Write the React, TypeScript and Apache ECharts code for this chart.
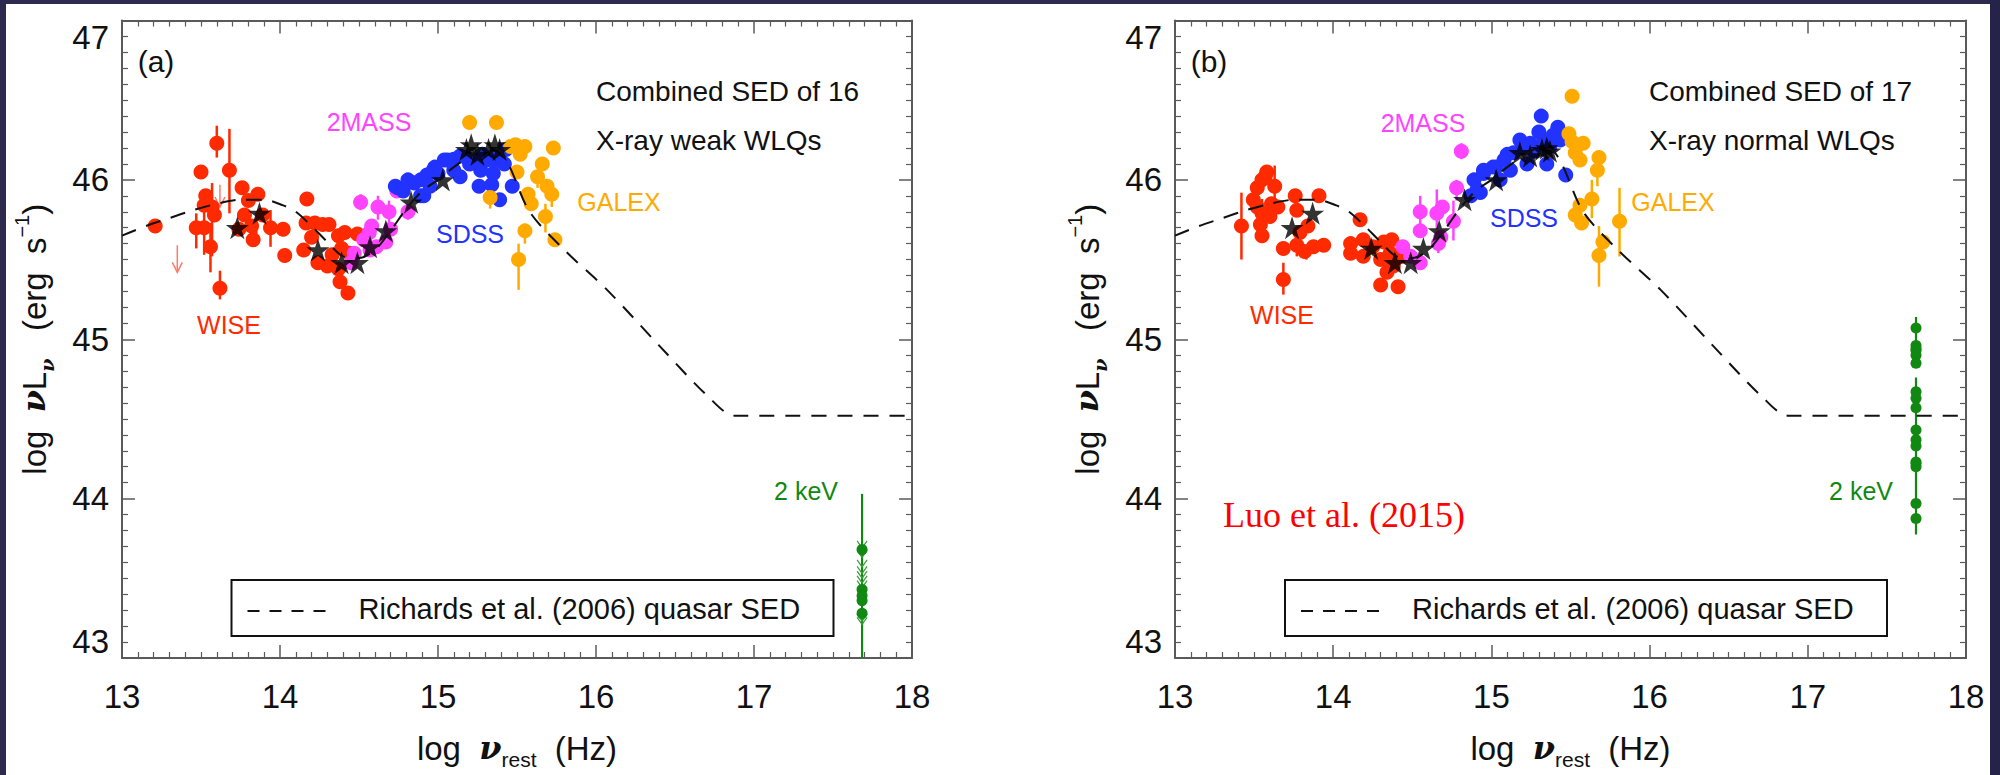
import React, { useEffect, useRef } from "react";
import * as echarts from "echarts";

// ---------- axes ----------
const xMin = 13, xMax = 18, xStep = 1;
const yMin = 43, yMax = 47, yStep = 1;
const xLog2keV = 17.684;

// ---------- Richards et al. (2006) mean quasar SED ----------
const sedX = [13.0, 13.15, 13.3, 13.45, 13.6, 13.75, 13.9, 14.02, 14.1, 14.2, 14.3, 14.4, 14.5, 14.6, 14.7, 14.8, 14.9, 15.0, 15.1, 15.2, 15.3, 15.38, 15.45, 15.58, 15.8, 16.07, 16.4, 16.71, 16.88, 18.0];
const sedY = [45.65, 45.71, 45.76, 45.81, 45.85, 45.875, 45.875, 45.84, 45.8, 45.71, 45.61, 45.52, 45.51, 45.56, 45.68, 45.82, 45.93, 46.0, 46.08, 46.15, 46.2, 46.19, 46.09, 45.8, 45.56, 45.31, 44.96, 44.64, 44.52, 44.52];

// ---------- panel (a): X-ray weak ----------
const aWise: number[][] = [[13.21,45.71],[13.5,46.05],[13.6,46.23],[13.68,46.06],[13.53,45.9],[13.52,45.84],[13.57,45.83],[13.585,45.78],[13.47,45.7],[13.52,45.7],[13.56,45.58],[13.62,45.32],[13.76,45.95],[13.8,45.87],[13.86,45.91],[13.775,45.78],[13.82,45.71],[13.74,45.69],[13.83,45.625],[13.89,45.78],[13.94,45.7],[14.02,45.69],[14.03,45.525],[14.17,45.88],[14.165,45.73],[14.22,45.73],[14.27,45.72],[14.31,45.72],[14.15,45.56],[14.2,45.64],[14.24,45.48],[14.3,45.46],[14.37,45.65],[14.41,45.67],[14.49,45.66],[14.39,45.57],[14.37,45.44],[14.38,45.36],[14.43,45.29],[14.33,45.53],[14.44,45.54]];
const aWiseErr: number[][] = [[13.6,46.14,46.34],[13.68,45.79,46.32],[13.47,45.57,45.79],[13.56,45.42,45.73],[13.62,45.25,45.43],[13.94,45.58,45.81],[13.57,45.52,45.98],[13.52,45.53,45.94],[13.85,45.66,45.76]];
const aWiseLim: number[][] = [[13.35,45.59,45.42],[13.62,45.97,45.83]];
const a2mass: number[][] = [[14.51,45.86],[14.62,45.83],[14.69,45.8],[14.58,45.71],[14.74,45.93],[14.81,45.8],[14.7,45.69],[14.53,45.625],[14.61,45.58],[14.47,45.54],[14.565,45.67],[14.67,45.61],[14.45,45.48],[14.57,45.56]];
const a2massErr: number[][] = [[14.51,45.81,45.91],[14.62,45.75,45.9],[14.69,45.73,45.87],[14.81,45.75,45.85],[14.67,45.58,45.71]];
const aSdss: number[][] = [[14.73,45.96],[14.745,45.95],[14.81,46.0],[14.85,45.98],[14.89,46.0],[14.89,45.9],[14.91,45.9],[14.93,46.03],[14.97,46.06],[14.98,46.08],[15.04,46.125],[15.06,46.125],[15.1,46.06],[15.1,46.13],[15.14,46.15],[15.14,46.02],[15.18,46.14],[15.23,46.125],[15.27,46.06],[15.26,45.96],[15.31,46.125],[15.35,46.04],[15.34,45.97],[15.39,46.15],[15.43,46.19],[15.39,45.875],[15.47,45.96],[15.2,46.1],[15.0,46.04],[14.95,45.96],[14.78,45.93],[15.28,46.16],[15.36,46.12],[15.42,46.1]];
const aGalex: number[][] = [[15.2,46.36],[15.37,46.36],[15.46,46.21],[15.49,46.22],[15.55,46.21],[15.52,46.16],[15.73,46.2],[15.66,46.1],[15.5,46.05],[15.63,46.02],[15.69,45.96],[15.72,45.91],[15.57,45.91],[15.33,45.89],[15.59,45.85],[15.68,45.77],[15.55,45.68],[15.74,45.625],[15.51,45.5]];
const aGalexErr: number[][] = [[15.63,45.95,46.06],[15.72,45.83,45.96],[15.33,45.82,45.93],[15.68,45.67,45.85],[15.55,45.6,45.71],[15.51,45.31,45.6]];
const aStars: number[][] = [[13.73,45.7],[13.87,45.79],[14.24,45.56],[14.39,45.48],[14.49,45.48],[14.57,45.58],[14.67,45.68],[14.83,45.86],[15.03,46.0],[15.18,46.19],[15.21,46.22],[15.25,46.16],[15.32,46.19],[15.36,46.22],[15.39,46.19]];
const aXray = [43.68, 43.43, 43.39, 43.36, 43.28];
const aXrayErr: number[][] = [[xLog2keV, 43.0, 44.03]];
const aXrayLim = [43.71, 43.65, 43.59, 43.55, 43.52, 43.49, 43.46, 43.42, 43.25, 43.23];

// ---------- panel (b): X-ray normal ----------
const bWise: number[][] = [[13.42,45.71],[13.495,45.875],[13.52,45.95],[13.55,46.0],[13.58,46.05],[13.57,46.02],[13.52,45.83],[13.55,45.79],[13.54,45.72],[13.55,45.65],[13.61,45.85],[13.63,45.96],[13.65,45.83],[13.685,45.57],[13.685,45.375],[13.6,45.77],[13.76,45.9],[13.77,45.81],[13.91,45.9],[13.84,45.71],[13.79,45.67],[13.77,45.59],[13.82,45.55],[13.875,45.58],[13.94,45.59],[14.17,45.75],[14.11,45.6],[14.11,45.54],[14.19,45.625],[14.25,45.58],[14.32,45.61],[14.37,45.625],[14.19,45.52],[14.3,45.5],[14.36,45.54],[14.44,45.52],[14.3,45.34],[14.41,45.33],[14.34,45.42],[14.38,45.46]];
const bWiseErr: number[][] = [[13.42,45.5,45.92],[13.63,45.81,46.09],[13.685,45.28,45.48],[13.55,45.62,45.88],[13.77,45.52,45.62],[13.83,45.5,45.58]];
const b2mass: number[][] = [[14.81,46.18],[14.55,45.8],[14.655,45.79],[14.69,45.83],[14.55,45.68],[14.665,45.6],[14.76,45.74],[14.78,45.95],[14.55,45.48],[14.49,45.52],[14.44,45.58],[14.68,45.64]];
const b2massErr: number[][] = [[14.81,46.13,46.23],[14.55,45.71,45.9],[14.655,45.69,45.94],[14.665,45.54,45.66],[14.76,45.62,45.87],[14.78,45.87,46.0]];
const bSdss: number[][] = [[14.87,45.9],[14.89,46.0],[14.91,45.94],[14.93,45.92],[14.95,46.04],[14.95,46.06],[15.01,46.08],[15.03,46.08],[15.055,46.0],[15.08,46.125],[15.1,46.16],[15.12,46.06],[15.14,46.17],[15.18,46.25],[15.225,46.1],[15.245,46.23],[15.3,46.3],[15.315,46.4],[15.35,46.1],[15.37,46.21],[15.42,46.33],[15.435,46.25],[15.47,46.03],[15.2,46.2],[15.27,46.18],[15.33,46.24],[15.39,46.28]];
const bGalex: number[][] = [[15.51,46.525],[15.49,46.29],[15.51,46.24],[15.58,46.23],[15.53,46.17],[15.56,46.125],[15.68,46.14],[15.67,46.06],[15.635,45.88],[15.56,45.84],[15.53,45.78],[15.57,45.73],[15.81,45.74],[15.705,45.61],[15.68,45.525]];
const bGalexErr: number[][] = [[15.67,45.96,46.1],[15.635,45.76,46.0],[15.81,45.52,45.95],[15.68,45.33,45.71]];
const bStars: number[][] = [[13.74,45.7],[13.87,45.79],[14.24,45.57],[14.39,45.48],[14.49,45.48],[14.57,45.57],[14.67,45.68],[14.83,45.875],[15.03,46.0],[15.18,46.17],[15.245,46.15],[15.32,46.19],[15.35,46.2],[15.37,46.18]];
const bXray = [45.07, 44.96, 44.94, 44.93, 44.9, 44.85, 44.67, 44.63, 44.57, 44.43, 44.37, 44.33, 44.23, 44.2, 44.22, 43.97, 43.875];
const bXrayErr: number[][] = [[xLog2keV, 44.82, 45.14], [xLog2keV, 43.775, 44.76]];

// ---------- texts ----------
const panelTags = ["(a)", "(b)"];
const panelTitles = [["Combined SED of 16", "X-ray weak WLQs"], ["Combined SED of 17", "X-ray normal WLQs"]];
const bandNames = ["WISE", "2MASS", "SDSS", "GALEX", "2 keV"];
const legendText = "Richards et al. (2006) quasar SED";
const citeText = "Luo et al. (2015)";

// ---------- style ----------
const F = "'Liberation Sans', Arial, sans-serif";
const RED = "#ff2a00", MAG = "#ff44ff", BLUE = "#2233ff", ORANGE = "#ffaa00", GREEN = "#118811", LIMRED = "#ff7a6a";
const AX = "#5a5a5a";
const STAR = "path://M50,0L61.8,35.1L98.6,35.1L68.8,56.8L80.2,91.5L50,70L19.8,91.5L31.2,56.8L1.4,35.1L38.2,35.1Z";

const grids = [
  { left: 122, top: 20.5, width: 790, height: 640 },
  { left: 1175, top: 20.5, width: 791, height: 640 },
];

const axLine = { show: true, onZero: false, lineStyle: { color: AX, width: 2 } };
const axTick = { show: true, inside: true, length: 13, lineStyle: { color: AX, width: 1.5 } };
const minTick = { show: true, splitNumber: 10, length: 6, lineStyle: { color: AX, width: 1.2 } };

const richTitle = {
  t: { fontFamily: F, fontSize: 33, color: "#111", lineHeight: 44, verticalAlign: "middle" },
  nu: { fontFamily: "'DejaVu Serif', serif", fontStyle: "italic", fontWeight: "bold", fontSize: 32, color: "#111", lineHeight: 44, verticalAlign: "middle" },
  sub: { fontFamily: "'DejaVu Serif', serif", fontStyle: "italic", fontWeight: "bold", fontSize: 19, color: "#111", lineHeight: 19, verticalAlign: "bottom" },
  subr: { fontFamily: F, fontSize: 21, color: "#111", lineHeight: 21, verticalAlign: "bottom" },
  sup: { fontFamily: F, fontSize: 20, color: "#111", lineHeight: 20, verticalAlign: "top" },
};

function xAxes(g: number) {
  return [
    {
      gridIndex: g, type: "value", min: xMin, max: xMax, interval: xStep, position: "bottom",
      axisLine: axLine, axisTick: axTick, minorTick: minTick, splitLine: { show: false },
      axisLabel: { fontFamily: F, fontSize: 33, color: "#111", margin: 22 },
      name: "{t|log  }{nu|ν}{subr|rest}{t|  (Hz)}", nameLocation: "middle", nameGap: 68,
      nameTextStyle: { rich: richTitle },
    },
    {
      gridIndex: g, type: "value", min: xMin, max: xMax, interval: xStep, position: "top",
      axisLine: axLine, axisTick: axTick, minorTick: minTick, splitLine: { show: false },
      axisLabel: { show: false },
    },
  ];
}
function yAxes(g: number) {
  return [
    {
      gridIndex: g, type: "value", min: yMin, max: yMax, interval: yStep, position: "left",
      axisLine: axLine, axisTick: axTick, minorTick: minTick, splitLine: { show: false },
      axisLabel: { fontFamily: F, fontSize: 33, color: "#111", margin: 13, verticalAlignMinLabel: "bottom", verticalAlignMaxLabel: "top" },
      name: "{t|log  }{nu|ν}{t|L}{sub|ν}{t|   (erg  s}{sup|−1}{t|)}", nameLocation: "middle", nameGap: 66, nameRotate: 90,
      nameTextStyle: { rich: richTitle },
    },
    {
      gridIndex: g, type: "value", min: yMin, max: yMax, interval: yStep, position: "right",
      axisLine: axLine, axisTick: axTick, minorTick: minTick, splitLine: { show: false },
      axisLabel: { show: false },
    },
  ];
}

function errSeries(data: number[][], color: string, xi: number, yi: number, w = 2.5) {
  return {
    type: "custom", xAxisIndex: xi, yAxisIndex: yi, data, silent: true,
    encode: { x: 0, y: [1, 2] },
    renderItem: (_p: any, api: any) => {
      const a = api.coord([api.value(0), api.value(1)]);
      const b = api.coord([api.value(0), api.value(2)]);
      return { type: "line", shape: { x1: a[0], y1: a[1], x2: b[0], y2: b[1] }, style: { stroke: color, lineWidth: w } };
    },
  };
}
function arrowSeries(data: number[][], color: string, xi: number, yi: number) {
  return {
    type: "custom", xAxisIndex: xi, yAxisIndex: yi, data, silent: true,
    encode: { x: 0, y: [1, 2] },
    renderItem: (_p: any, api: any) => {
      const a = api.coord([api.value(0), api.value(1)]);
      const b = api.coord([api.value(0), api.value(2)]);
      return {
        type: "group",
        children: [
          { type: "line", shape: { x1: a[0], y1: a[1], x2: b[0], y2: b[1] }, style: { stroke: color, lineWidth: 1.5 } },
          { type: "polyline", shape: { points: [[b[0] - 5, b[1] - 10], [b[0], b[1]], [b[0] + 5, b[1] - 10]] }, style: { stroke: color, lineWidth: 1.5, fill: "none" } },
        ],
      };
    },
  };
}
function chevronSeries(ys: number[], color: string, xi: number, yi: number) {
  return {
    type: "custom", xAxisIndex: xi, yAxisIndex: yi, data: ys.map((y) => [xLog2keV, y]), silent: true,
    encode: { x: 0, y: 1 },
    renderItem: (_p: any, api: any) => {
      const c = api.coord([api.value(0), api.value(1)]);
      return { type: "polyline", shape: { points: [[c[0] - 5, c[1] - 4], [c[0], c[1] + 3], [c[0] + 5, c[1] - 4]] }, style: { stroke: color, lineWidth: 1.2, fill: "none" } };
    },
  };
}
function dots(data: number[][], color: string, xi: number, yi: number, size = 15) {
  return { type: "scatter", xAxisIndex: xi, yAxisIndex: yi, data, symbol: "circle", symbolSize: size, itemStyle: { color, opacity: 1 }, silent: true };
}

function panelSeries(p: number) {
  const xi = p * 2, yi = p * 2;
  const wise = p === 0 ? aWise : bWise;
  const wiseErr = p === 0 ? aWiseErr : bWiseErr;
  const tm = p === 0 ? a2mass : b2mass;
  const tmErr = p === 0 ? a2massErr : b2massErr;
  const sd = p === 0 ? aSdss : bSdss;
  const ga = p === 0 ? aGalex : bGalex;
  const gaErr = p === 0 ? aGalexErr : bGalexErr;
  const st = p === 0 ? aStars : bStars;
  const xr = p === 0 ? aXray : bXray;
  const xrErr = p === 0 ? aXrayErr : bXrayErr;
  const list: any[] = [
    {
      type: "line", xAxisIndex: xi, yAxisIndex: yi, data: sedX.map((x, i) => [x, sedY[i]]),
      showSymbol: false, symbol: "none", silent: true, smooth: 0.3,
      lineStyle: { color: "#111", width: 2, type: [15, 11] },
    },
    errSeries(wiseErr, RED, xi, yi),
    dots(wise, RED, xi, yi),
    errSeries(tmErr, MAG, xi, yi),
    dots(tm, MAG, xi, yi),
    dots(sd, BLUE, xi, yi),
    errSeries(gaErr, ORANGE, xi, yi),
    dots(ga, ORANGE, xi, yi),
    errSeries(xrErr, GREEN, xi, yi, 2.2),
    dots(xr.map((y) => [xLog2keV, y]), GREEN, xi, yi, 11),
  ];
  if (p === 0) {
    list.push(arrowSeries(aWiseLim, LIMRED, xi, yi));
    list.push(chevronSeries(aXrayLim, "#3aa03a", xi, yi));
  }
  list.push({ type: "scatter", xAxisIndex: xi, yAxisIndex: yi, data: st, symbol: STAR, symbolSize: 23, itemStyle: { color: "#000" }, silent: true });
  return list;
}

function txt(text: string, x: number, y: number, color: string, size: number, align = "center", family = F) {
  return { type: "text", x, y, silent: true, style: { text, fill: color, font: `${size}px ${family}`, textAlign: align, textVerticalAlign: "middle" } };
}

function panelGraphics(p: number) {
  const dx = p === 0 ? 0 : 1053.5;
  const bx = 231.5 + dx;
  const items: any[] = [
    txt(panelTags[p], (p === 0 ? 156 : 1209), 61, "#111", 30),
    txt(panelTitles[p][0], 596 + (p === 0 ? 0 : 1053), 91, "#111", 28, "left"),
    txt(panelTitles[p][1], 596 + (p === 0 ? 0 : 1053), 140, "#111", 28, "left"),
    { type: "rect", shape: { x: bx, y: 580, width: 602, height: 56 }, style: { fill: "#fff", stroke: "#111", lineWidth: 2 }, silent: true, z: 10 },
    { type: "line", shape: { x1: bx + 16, y1: 611, x2: bx + 94, y2: 611 }, style: { stroke: "#111", lineWidth: 2, lineDash: [12, 10] }, silent: true, z: 11 },
    { ...txt(legendText, bx + 127, 609, "#111", 29, "left"), z: 11 },
  ];
  const labPos = p === 0
    ? [[229, 325], [369, 122], [470, 234], [619, 202], [806, 491]]
    : [[1282, 315], [1423, 123], [1524, 218], [1673, 202], [1861, 491]];
  const labCol = [RED, MAG, BLUE, ORANGE, GREEN];
  bandNames.forEach((n, i) => items.push(txt(n, labPos[i][0], labPos[i][1], labCol[i], 25)));
  if (p === 1) items.push(txt(citeText, 1344, 515, "#ff0000", 36, "center", "'Liberation Serif', 'Times New Roman', serif"));
  return items;
}

const FRAME = "#2d2b4d";

export default function App() {
  const ref = useRef<HTMLDivElement>(null);
  useEffect(() => {
    const chart = echarts.init(ref.current!, undefined, { renderer: "svg" });
    chart.setOption({
      animation: false,
      backgroundColor: "#ffffff",
      grid: grids,
      xAxis: [...xAxes(0), ...xAxes(1)],
      yAxis: [...yAxes(0), ...yAxes(1)],
      series: [...panelSeries(0), ...panelSeries(1)],
      graphic: [
        { type: "rect", shape: { x: 0, y: 0, width: 2000, height: 4 }, style: { fill: FRAME }, silent: true },
        { type: "rect", shape: { x: 0, y: 0, width: 6, height: 775 }, style: { fill: FRAME }, silent: true },
        { type: "rect", shape: { x: 1990, y: 0, width: 10, height: 775 }, style: { fill: "#252349" }, silent: true },
        ...panelGraphics(0),
        ...panelGraphics(1),
      ],
    });
    return () => chart.dispose();
  }, []);
  return <div ref={ref} style={{ position: "fixed", left: 0, top: 0, width: 2000, height: 775 }} />;
}
